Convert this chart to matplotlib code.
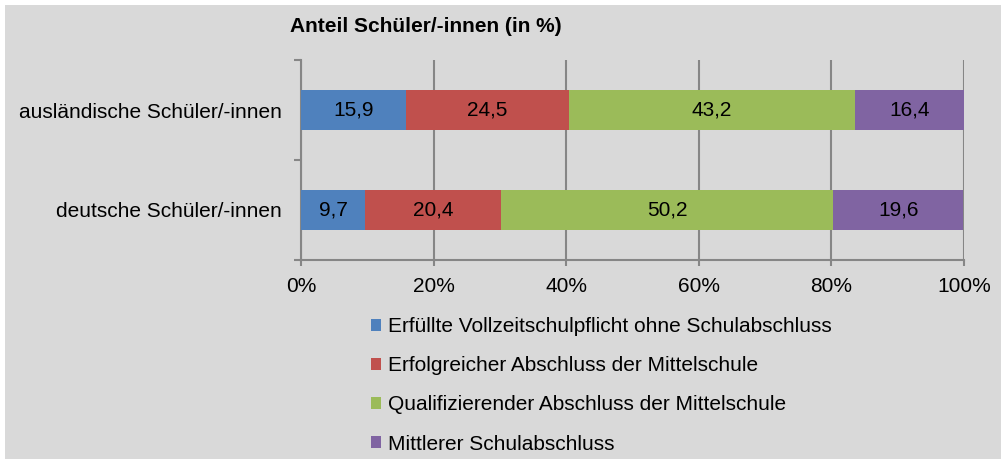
import matplotlib.pyplot as plt
from matplotlib.patches import Rectangle

plt.rcParams["font.family"] = ["Liberation Sans", "DejaVu Sans"]

# data (top bar first)
groups = ["ausländische Schüler/-innen", "deutsche Schüler/-innen"]
series = [
    "Erfüllte Vollzeitschulpflicht ohne Schulabschluss",
    "Erfolgreicher Abschluss der Mittelschule",
    "Qualifizierender Abschluss der Mittelschule",
    "Mittlerer Schulabschluss",
]
values = [
    [15.9, 9.7],
    [24.5, 20.4],
    [43.2, 50.2],
    [16.4, 19.6],
]
colors = ["#4f81bd", "#c0504d", "#9bbb59", "#8064a2"]
xticks = [0, 20, 40, 60, 80, 100]
title = "Anteil Schüler/-innen (in %)"

W, H = 1001, 459
FS = 15
bg = "#d9d9d9"
grid_c = "#868686"
fig = plt.figure(figsize=(W / 100, H / 100), dpi=100, facecolor=bg)
# white margin on top and left edge
fig.patches.append(Rectangle((-0.01, 1 - 5 / H), 1.02, 0.05, transform=fig.transFigure,
                             facecolor="white", edgecolor="none", zorder=-10))
fig.patches.append(Rectangle((-0.01, -0.01), 0.01 + 5 / W, 1.02, transform=fig.transFigure,
                             facecolor="white", edgecolor="none", zorder=-10))

ax = fig.add_axes([301 / W, 1 - 260 / H, (964 - 301) / W, 200 / H])
ax.patch.set_alpha(0)

ypos = list(range(len(groups)))[::-1]
left = [0.0] * len(groups)
bars = []
for name, vals, col in zip(series, values, colors):
    b = ax.barh(ypos, vals, left=left, height=0.4, color=col, label=name, zorder=3)
    for rect, v in zip(b, vals):
        ax.text(rect.get_x() + rect.get_width() / 2, rect.get_y() + rect.get_height() / 2,
                f"{v:.1f}".replace(".", ","), ha="center", va="center",
                fontsize=FS, zorder=4)
    left = [l + v for l, v in zip(left, vals)]
    bars.append(b)

ax.set_xlim(0, 100)
ax.set_ylim(-0.5, 1.5)
ax.set_xticks(xticks)
ax.set_xticklabels([f"{t}%" for t in xticks], fontsize=FS)
ax.set_yticks(ypos)
ax.set_yticklabels(groups, fontsize=FS)
ax.tick_params(axis="y", length=0, pad=13.5)
ax.set_yticks([-0.5, 0.5, 1.5], minor=True)
ax.tick_params(axis="y", which="minor", length=5, color=grid_c, width=1.5)
ax.tick_params(axis="x", length=4, color=grid_c, width=1.5, pad=8)
ax.grid(axis="x", color=grid_c, linewidth=1.5, zorder=0)
for side in ["top", "right"]:
    ax.spines[side].set_visible(False)
for side in ["left", "bottom"]:
    ax.spines[side].set_color(grid_c)
    ax.spines[side].set_linewidth(1.5)

fig.text(290 / W, 1 - 27 / H, title, fontsize=FS, fontweight="bold", va="center", ha="left")

leg = fig.legend(handles=bars, labels=series, loc="upper left",
                 bbox_to_anchor=(371 / W, 1 - 317 / H), frameon=False,
                 fontsize=FS, handlelength=0.5, handleheight=0.5,
                 handletextpad=0.3, labelspacing=0.97, borderaxespad=0, borderpad=0)

fig.savefig("out.png", dpi=100, facecolor=bg)
